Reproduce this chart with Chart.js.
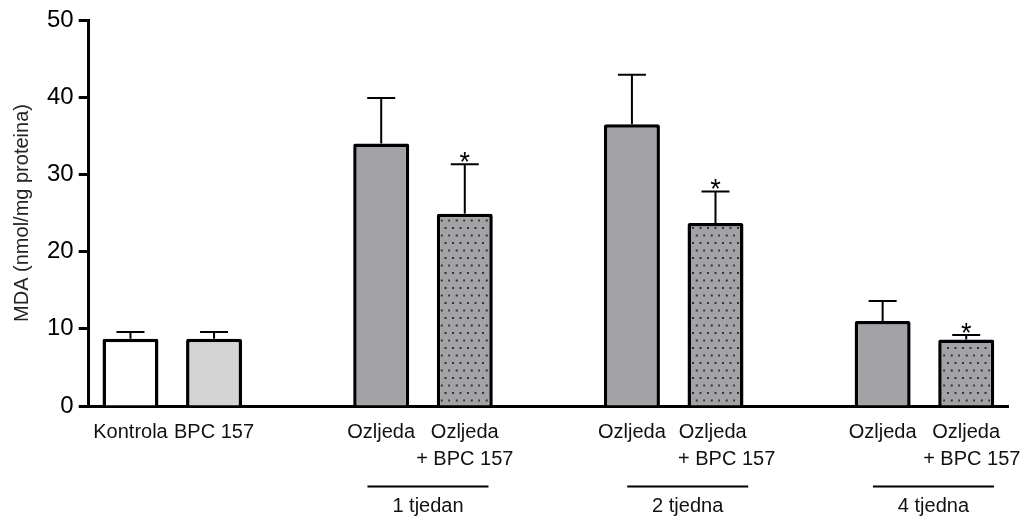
<!DOCTYPE html>
<html>
<head>
<meta charset="utf-8">
<script src="https://cdn.jsdelivr.net/npm/chart.js@4"></script>
<style>
  html, body { margin: 0; padding: 0; background: #fff; }
  #wrap { width: 1020px; height: 518px; }
</style>
</head>
<body>
<div id="wrap"><canvas id="mdaChart" width="1020" height="518"></canvas></div>
<script>
// MDA values per group (empty slots keep the gaps between time points)
const categories = ["Kontrola", "BPC 157", "", "Ozljeda", "Ozljeda\n+ BPC 157", "", "Ozljeda", "Ozljeda\n+ BPC 157", "", "Ozljeda", "Ozljeda\n+ BPC 157"];
const mdaMean = [8.7, 8.7, null, 34.0, 24.9, null, 36.5, 23.7, null, 11.0, 8.6];
const mdaSem = [0.9, 0.9, null, 5.9, 6.4, null, 6.4, 4.1, null, 2.6, 0.6];
const significant = [false, false, false, false, true, false, false, true, false, false, true];
const fillKind = ["white", "light", null, "gray", "dots", null, "gray", "dots", null, "gray", "dots"];
const yTicks = [0, 10, 20, 30, 40, 50];
const groupNames = ["1 tjedan", "2 tjedna", "4 tjedna"];
const groupBars = [[3, 4], [6, 7], [9, 10]];

const FONT = "'Liberation Sans', Arial, sans-serif";

/**
 * Small tile with staggered dark dots on gray, like the hatched bars
 */
function makeDotPattern() {
    let tile = document.createElement("canvas");
    tile.width = 15;
    tile.height = 15;
    let c = tile.getContext("2d");
    c.fillStyle = "#a3a2a7";
    c.fillRect(0, 0, 15, 15);
    c.fillStyle = "#333";
    [[2, 2], [9.5, 2], [5.75, 9.5], [13.25, 9.5]].forEach(function (p) {
        c.fillRect(p[0], p[1], 2, 2);
    });
    return document.getElementById("mdaChart").getContext("2d").createPattern(tile, "repeat");
}

const fills = {
    white: "#ffffff",
    light: "#d4d4d4",
    gray: "#a3a2a7",
    dots: makeDotPattern()
};

// error bars + significance stars drawn on top of the bars
const errorBarPlugin = {
    id: "errorBars",
    afterDatasetsDraw(chart) {
        const ctx = chart.ctx;
        const meta = chart.getDatasetMeta(0);
        const yScale = chart.scales.y;
        ctx.save();
        ctx.strokeStyle = "#000";
        ctx.lineWidth = 2;
        meta.data.forEach(function (bar, i) {
            if (mdaMean[i] === null) return;
            const yTop = yScale.getPixelForValue(mdaMean[i]);
            const yErr = yScale.getPixelForValue(mdaMean[i] + mdaSem[i]);
            ctx.beginPath();
            ctx.moveTo(bar.x, yTop);
            ctx.lineTo(bar.x, yErr);
            ctx.moveTo(bar.x - 14, yErr);
            ctx.lineTo(bar.x + 14, yErr);
            ctx.stroke();
            if (significant[i]) {
                ctx.fillStyle = "#000";
                ctx.font = "27px " + FONT;
                ctx.textAlign = "center";
                ctx.textBaseline = "alphabetic";
                ctx.fillText("*", bar.x, yErr + 7);
            }
        });
        ctx.restore();
    }
};

// time point lines and labels under the pairs of bars
const groupLabelPlugin = {
    id: "groupLabels",
    afterDraw(chart) {
        const ctx = chart.ctx;
        const xScale = chart.scales.x;
        const shift = [5, 14, 9];
        ctx.save();
        ctx.strokeStyle = "#000";
        ctx.lineWidth = 2;
        ctx.fillStyle = "#111";
        ctx.font = "20px " + FONT;
        ctx.textAlign = "center";
        ctx.textBaseline = "middle";
        groupNames.forEach(function (name, g) {
            const a = xScale.getPixelForValue(groupBars[g][0]);
            const b = xScale.getPixelForValue(groupBars[g][1]);
            const mid = (a + b) / 2 + shift[g];
            ctx.beginPath();
            ctx.moveTo(mid - 60.5, 486.5);
            ctx.lineTo(mid + 60.5, 486.5);
            ctx.stroke();
            ctx.fillText(name, mid, 506);
        });
        ctx.restore();
    }
};

// the second label line sits a little to the right in some groups
const secondLineIndent = { 4: 0, 7: 4, 10: 2 };

new Chart(document.getElementById("mdaChart"), {
    type: "bar",
    data: {
        labels: categories,
        datasets: [{
            data: mdaMean,
            backgroundColor: fillKind.map(function (k) { return k ? fills[k] : "transparent"; }),
            borderColor: "#000",
            borderWidth: 3.5,
            borderRadius: 2,
            borderSkipped: "bottom",
            barPercentage: 0.67,
            categoryPercentage: 1.0
        }]
    },
    options: {
        responsive: false,
        animation: false,
        layout: { padding: { left: 6, right: 12, top: 20, bottom: 32 } },
        plugins: {
            legend: { display: false },
            tooltip: { enabled: false }
        },
        scales: {
            x: {
                offset: true,
                grid: { display: false, drawTicks: false },
                border: { display: true, color: "#000", width: 3 },
                afterFit: function (axis) {
                    // long last label should not squeeze the plot area
                    axis.paddingLeft = 0;
                    axis.paddingRight = 0;
                },
                ticks: {
                    color: "#111",
                    padding: 13,
                    maxRotation: 0,
                    autoSkip: false,
                    font: { family: FONT, size: 20, lineHeight: 1.35 },
                    callback: function (value, index) {
                        const parts = categories[index].split("\n");
                        if (parts.length === 1) return parts[0];
                        const n = secondLineIndent[index] || 0;
                        return [parts[0] + (n >= 4 ? " " : ""), " ".repeat(n) + parts[1]];
                    }
                }
            },
            y: {
                min: 0,
                max: 50,
                afterBuildTicks: function (axis) {
                    axis.ticks = yTicks.map(function (v) { return { value: v }; });
                },
                grid: { drawOnChartArea: false, drawTicks: true, tickLength: 10, tickWidth: 3, color: "#000" },
                border: { display: true, color: "#000", width: 3 },
                ticks: {
                    color: "#000",
                    padding: 5,
                    font: { family: FONT, size: 24 }
                },
                title: {
                    display: true,
                    text: "MDA (nmol/mg proteina)",
                    color: "#222",
                    padding: { top: 4, bottom: 8 },
                    font: { family: FONT, size: 20 }
                }
            }
        }
    },
    plugins: [errorBarPlugin, groupLabelPlugin]
});
</script>
</body>
</html>
